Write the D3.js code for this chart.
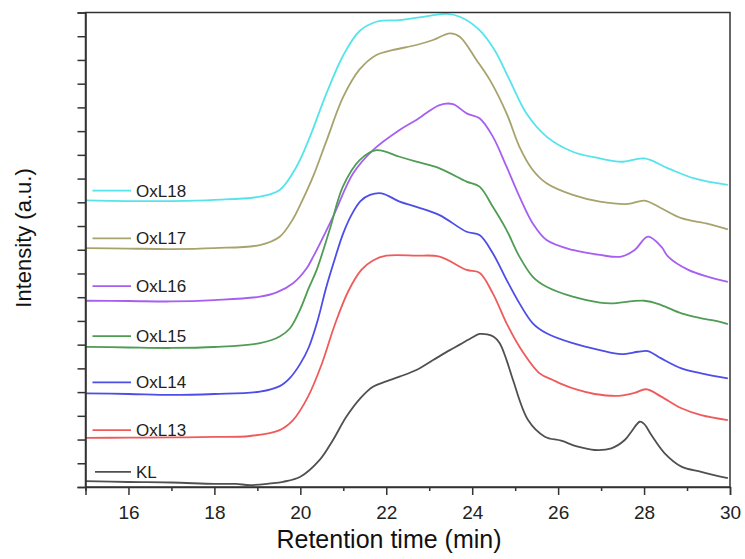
<!DOCTYPE html>
<html>
<head>
<meta charset="utf-8">
<script src="https://cdn.jsdelivr.net/npm/d3@7"></script>
<style>
  body { margin: 0; background: #fff; }
  svg { display: block; font-family: Arial, "Liberation Sans", sans-serif; }
</style>
</head>
<body>
<div id="chart"></div>
<script>
// series labels, top to bottom as in the legend
var seriesNames = ["OxL18", "OxL17", "OxL16", "OxL15", "OxL14", "OxL13", "KL"];
var seriesColors = ["#55e4ea", "#a8a36c", "#a65ff0", "#4f9c54", "#4d4de8", "#ef5b5b", "#505050"];

// retention time (min) / intensity (stacked, a.u.)
var kl_t = [15, 16, 17, 18, 18.5, 18.83, 19.3, 19.6, 20, 20.45, 20.76, 21.07, 21.4, 21.69, 22.0, 22.31, 22.7, 23.09, 23.48, 23.71, 24.0, 24.17, 24.35, 24.5, 24.64, 24.8, 24.95, 25.3, 25.69, 26.07, 26.46, 26.85, 27.24, 27.55, 27.7, 27.9, 28.0, 28.17, 28.48, 28.87, 29.33, 29.95];
var kl_y = [0.25, 0.21, 0.19, 0.13, 0.13, 0.08, 0.15, 0.22, 0.43, 1.14, 1.98, 2.96, 3.75, 4.23, 4.45, 4.65, 4.93, 5.35, 5.77, 6.00, 6.30, 6.45, 6.43, 6.33, 6.06, 5.35, 4.51, 2.82, 2.12, 1.95, 1.70, 1.56, 1.63, 1.98, 2.32, 2.75, 2.66, 2.19, 1.42, 0.86, 0.64, 0.37];

var oxl13_t = [15, 16, 17, 18, 18.83, 19.52, 19.83, 20.18, 20.49, 20.8, 21.11, 21.42, 21.69, 22.0, 22.7, 23.24, 23.87, 24.17, 24.48, 24.8, 25.1, 25.57, 25.88, 26.07, 26.46, 26.85, 27.4, 27.78, 28.05, 28.4, 28.87, 29.33, 29.95];
var oxl13_y = [2.07, 2.08, 2.09, 2.11, 2.15, 2.40, 2.82, 3.81, 5.14, 6.83, 8.23, 9.15, 9.55, 9.75, 9.75, 9.71, 9.15, 9.03, 8.16, 6.90, 5.91, 4.79, 4.51, 4.35, 4.09, 3.92, 3.84, 3.97, 4.12, 3.81, 3.32, 3.03, 2.82];

var oxl14_t = [15, 16, 17, 18, 19.06, 19.52, 19.76, 20.0, 20.2, 20.4, 20.6, 20.8, 21.0, 21.2, 21.4, 21.62, 21.89, 22.31, 22.7, 23.24, 23.87, 24.17, 24.48, 24.8, 25.1, 25.41, 25.73, 26.34, 26.97, 27.47, 27.86, 28.09, 28.4, 28.87, 29.33, 29.95];
var oxl14_y = [3.95, 3.92, 3.88, 3.92, 4.02, 4.25, 4.60, 5.20, 5.90, 7.00, 8.40, 9.60, 10.70, 11.50, 12.05, 12.31, 12.38, 12.03, 11.81, 11.46, 10.76, 10.62, 9.85, 8.73, 7.74, 6.90, 6.48, 6.06, 5.77, 5.60, 5.70, 5.73, 5.42, 5.00, 4.79, 4.58];

var oxl15_t = [15, 16, 17, 18, 19.06, 19.52, 19.76, 19.99, 20.2, 20.38, 20.68, 20.99, 21.38, 21.77, 22.31, 22.7, 23.24, 23.87, 24.17, 24.48, 24.8, 25.1, 25.41, 25.73, 26.34, 26.97, 27.24, 28.01, 28.4, 28.87, 29.33, 29.64, 29.95];
var oxl15_y = [5.91, 5.88, 5.86, 5.90, 6.06, 6.34, 6.69, 7.46, 8.40, 9.15, 10.83, 12.66, 13.78, 14.20, 13.92, 13.71, 13.43, 12.87, 12.66, 11.81, 10.83, 9.71, 8.86, 8.44, 8.02, 7.77, 7.74, 7.85, 7.67, 7.32, 7.11, 7.01, 6.87];

var oxl16_t = [15, 16, 17, 18, 19.06, 19.45, 19.83, 20.14, 20.3, 20.76, 21.23, 21.69, 22.31, 22.7, 23.24, 23.55, 23.87, 24.17, 24.48, 24.8, 25.1, 25.41, 25.73, 26.34, 26.97, 27.47, 27.78, 28.09, 28.4, 28.56, 29.03, 29.49, 29.95];
var oxl16_y = [7.85, 7.84, 7.82, 7.88, 8.02, 8.20, 8.59, 9.20, 9.71, 11.39, 13.22, 14.20, 15.05, 15.47, 16.10, 16.14, 15.75, 15.54, 14.77, 13.50, 12.24, 11.11, 10.41, 9.99, 9.78, 9.71, 9.99, 10.55, 10.13, 9.71, 9.15, 8.86, 8.65];

var oxl17_t = [15, 16, 17, 18, 19.06, 19.52, 19.83, 20.0, 20.3, 20.61, 21.0, 21.38, 21.77, 22.16, 22.7, 23.09, 23.48, 23.71, 24.1, 24.41, 24.8, 25.1, 25.41, 25.73, 26.34, 26.97, 27.63, 28.01, 28.4, 28.87, 29.49, 29.95];
var oxl17_y = [10.07, 10.05, 10.03, 10.07, 10.20, 10.55, 11.30, 11.90, 13.10, 14.60, 16.45, 17.60, 18.21, 18.42, 18.63, 18.84, 19.12, 18.98, 18.00, 17.16, 15.75, 14.34, 13.36, 12.80, 12.31, 12.03, 11.93, 12.07, 11.75, 11.33, 11.09, 10.86];

var oxl18_t = [15, 16, 17, 18, 19.06, 19.52, 19.91, 20.22, 20.61, 21.0, 21.38, 21.77, 22.31, 22.86, 23.4, 23.71, 24.17, 24.52, 24.87, 25.26, 25.73, 26.34, 26.97, 27.47, 28.01, 28.56, 29.17, 29.95];
var oxl18_y = [12.08, 12.05, 12.05, 12.10, 12.24, 12.52, 13.50, 14.75, 16.60, 18.20, 19.22, 19.61, 19.68, 19.82, 19.94, 19.82, 19.26, 18.42, 17.16, 15.75, 14.77, 14.13, 13.85, 13.71, 13.85, 13.43, 13.01, 12.73];

var seriesT = [oxl18_t, oxl17_t, oxl16_t, oxl15_t, oxl14_t, oxl13_t, kl_t];
var seriesY = [oxl18_y, oxl17_y, oxl16_y, oxl15_y, oxl14_y, oxl13_y, kl_y];

// legend row positions, in the same intensity units as the traces
var legendY = [12.49, 10.48, 8.47, 6.36, 4.41, 2.40, 0.64];

var xMajor = [16, 18, 20, 22, 24, 26, 28, 30];
var xMinor = [15, 17, 19, 21, 23, 25, 27, 29];
var yTicks = d3.range(0, 21);

var width = 745, height = 559;
var plotLeft = 85.5, plotRight = 730, plotTop = 12.5, plotBottom = 487;

var svg = d3.select("#chart").append("svg")
	.attr("width", width)
	.attr("height", height);

var x = d3.scaleLinear().domain([15, 30]).range([plotLeft, plotRight]);
var y = d3.scaleLinear().domain([0, 20]).range([plotBottom, plotTop]);

// traces
var line = d3.line()
	.x(function (d) { return x(d[0]); })
	.y(function (d) { return y(d[1]); })
	.curve(d3.curveCatmullRom.alpha(0.5));

seriesNames.forEach(function (name, i) {
	var pts = seriesT[i].map(function (t, j) { return [t, seriesY[i][j]]; });
	svg.append("path")
		.datum(pts)
		.attr("fill", "none")
		.attr("stroke", seriesColors[i])
		.attr("stroke-width", 1.8)
		.attr("stroke-linejoin", "round")
		.attr("d", line);
});

// legend
seriesNames.forEach(function (name, i) {
	var ly = y(legendY[i]);
	svg.append("line")
		.attr("x1", name === "KL" ? 95 : 92.5)
		.attr("x2", 131)
		.attr("y1", ly).attr("y2", ly)
		.attr("stroke", seriesColors[i])
		.attr("stroke-width", 1.8);
	svg.append("text")
		.attr("x", 136)
		.attr("y", ly)
		.attr("dy", "0.36em")
		.style("font-size", "17px")
		.style("fill", "#222")
		.text(name);
});

// axes
var xAxis = svg.append("g")
	.attr("transform", "translate(0," + plotBottom + ")")
	.call(d3.axisBottom(x).tickValues(xMajor).tickSize(8).tickPadding(11).tickFormat(d3.format("d")));
svg.append("g")
	.attr("transform", "translate(0," + plotBottom + ")")
	.call(d3.axisBottom(x).tickValues(xMinor).tickSize(4).tickFormat(""))
	.select(".domain").remove();
xAxis.selectAll("text").style("font-size", "19px").style("fill", "#222");

svg.append("g")
	.attr("transform", "translate(" + plotLeft + ",0)")
	.call(d3.axisLeft(y).tickValues(yTicks).tickSize(8).tickFormat(""));

svg.selectAll(".domain, .tick line").attr("stroke", "#333").attr("stroke-width", 1.5);

// frame
svg.append("rect")
	.attr("x", plotLeft).attr("y", plotTop)
	.attr("width", plotRight - plotLeft).attr("height", plotBottom - plotTop)
	.attr("fill", "none")
	.attr("stroke", "#333")
	.attr("stroke-width", 1.5);

// axis titles
svg.append("text")
	.attr("x", 389).attr("y", 548)
	.attr("text-anchor", "middle")
	.style("font-size", "25px")
	.style("fill", "#111")
	.text("Retention time (min)");

svg.append("text")
	.attr("transform", "translate(31,238) rotate(-90)")
	.attr("text-anchor", "middle")
	.style("font-size", "22px")
	.style("fill", "#111")
	.text("Intensity (a.u.)");
</script>
</body>
</html>
